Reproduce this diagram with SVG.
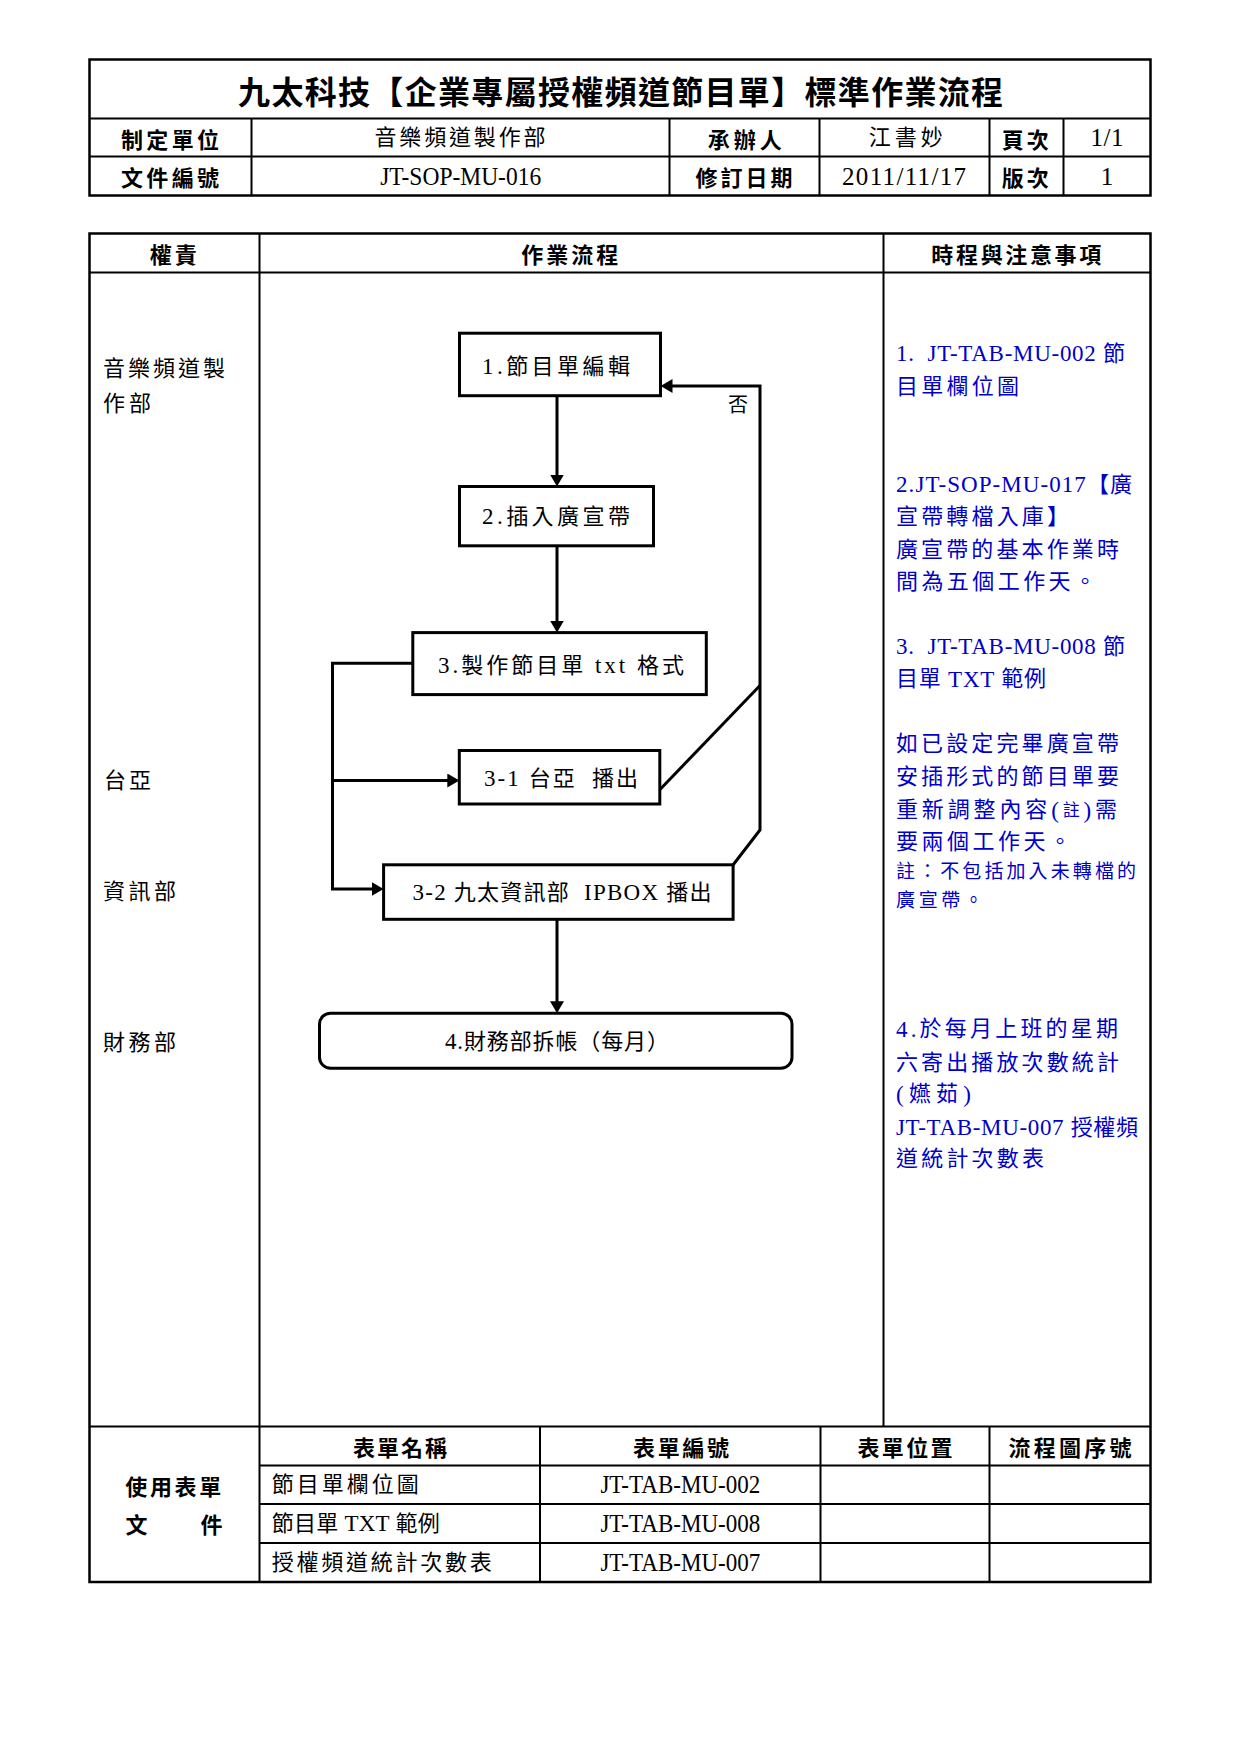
<svg xmlns="http://www.w3.org/2000/svg" width="1240" height="1754" viewBox="0 0 1240 1754">
<defs>
<style>
.t{font-family:"Liberation Serif","Noto Sans CJK TC",serif;font-size:22px;fill:#000;dominant-baseline:central}
.b{font-family:"Noto Sans CJK TC",sans-serif;font-weight:700;font-size:22px;fill:#000;dominant-baseline:central;text-anchor:middle}
.m{text-anchor:middle}
.n{fill:#0000c8}
.s{font-size:19px}
.L{font-size:23px}
.LL{font-size:25px}
.box{fill:#fff;stroke:#000;stroke-width:3}
.ln{fill:none;stroke:#000;stroke-width:3}
.g{stroke:#000;stroke-width:2;fill:none}
.o{stroke:#000;stroke-width:2.5;fill:none}
</style>
<marker id="ah" viewBox="0 0 12 14" refX="2" refY="7" markerWidth="12" markerHeight="14" markerUnits="userSpaceOnUse" orient="auto"><path d="M0,0 L12,7 L0,14 z" fill="#000"/></marker>
</defs>
<rect width="1240" height="1754" fill="#fff"/>

<g id="header-table">
<rect class="o" x="89.5" y="59.5" width="1061" height="136"/>
<path class="g" d="M89.5,118.5H1150.5 M89.5,156.5H1150.5 M251.5,118.5V195.5 M669.5,118.5V195.5 M819.5,118.5V195.5 M989.5,118.5V195.5 M1063.5,118.5V195.5"/>
<text class="b" x="620.6" y="90" style="font-size:32px" textLength="765">九太科技【企業專屬授權頻道節目單】標準作業流程</text>
<text class="b" x="170" y="137.5" textLength="98">制定單位</text>
<text class="t m" x="460" y="137.5" textLength="171">音樂頻道製作部</text>
<text class="b" x="744.7" y="137.5" textLength="74">承辦人</text>
<text class="t m" x="905.7" y="137.5" textLength="74">江書妙</text>
<text class="b" x="1025.3" y="137.5" textLength="47">頁次</text>
<text class="t m LL" x="1107" y="137.5" textLength="33">1/1</text>
<text class="b" x="170" y="176" textLength="98">文件編號</text>
<text class="t m LL" x="460.7" y="176" textLength="161" lengthAdjust="spacingAndGlyphs">JT-SOP-MU-016</text>
<text class="b" x="744" y="176" textLength="97">修訂日期</text>
<text class="t m LL" x="904" y="176" textLength="124">2011/11/17</text>
<text class="b" x="1025.3" y="176" textLength="47">版次</text>
<text class="t m LL" x="1107" y="176">1</text>
</g>

<g id="main-table">
<rect class="o" x="89.5" y="233.5" width="1061" height="1348.5"/>
<path class="g" d="M89.5,272.5H1150.5 M89.5,1426.5H1150.5 M259.5,233.5V1582 M883.5,233.5V1426.5 M259.5,1465.5H1150.5 M259.5,1504H1150.5 M259.5,1543H1150.5 M540,1426.5V1582 M820.5,1426.5V1582 M989.5,1426.5V1582"/>
<text class="b" x="173.3" y="253.2" textLength="47">權責</text>
<text class="b" x="569.7" y="253.2" textLength="97">作業流程</text>
<text class="b" x="1016.3" y="253.2" textLength="170">時程與注意事項</text>
</g>

<g id="roles">
<text class="t" x="103" y="368" textLength="122">音樂頻道製</text>
<text class="t" x="103" y="403.6" textLength="48">作部</text>
<text class="t" x="104" y="780.4" textLength="47">台亞</text>
<text class="t" x="103" y="891.1" textLength="73">資訊部</text>
<text class="t" x="103" y="1042" textLength="73">財務部</text>
</g>

<g id="connectors">
<line class="ln" x1="557" y1="395.7" x2="557" y2="476.5" marker-end="url(#ah)"/>
<line class="ln" x1="557" y1="545.8" x2="557" y2="622.6" marker-end="url(#ah)"/>
<polyline class="ln" points="412.8,663.3 332.5,663.3 332.5,889 373.6,889" marker-end="url(#ah)"/>
<line class="ln" x1="332.5" y1="780.5" x2="449.3" y2="780.5" marker-end="url(#ah)"/>
<line class="ln" x1="660" y1="789.5" x2="760" y2="685.5"/>
<polyline class="ln" points="733,865 760,830 760,386 670.5,386" marker-end="url(#ah)"/>
<line class="ln" x1="557" y1="919.3" x2="557" y2="1003.2" marker-end="url(#ah)"/>
<text class="t m" x="738" y="404.7" style="font-size:20px">否</text>
</g>

<g id="n1">
<rect class="box" x="459.5" y="333.2" width="201" height="62.5"/>
<text class="t m" x="556" y="366" textLength="148"><tspan class="L">1.</tspan>節目單編輯</text>
</g>
<g id="n2">
<rect class="box" x="459.5" y="486.5" width="194" height="59.3"/>
<text class="t m" x="556" y="516.3" textLength="148"><tspan class="L">2.</tspan>插入廣宣帶</text>
</g>
<g id="n3">
<rect class="box" x="412.8" y="632.6" width="293.5" height="62"/>
<text class="t m" x="561" y="665" textLength="246"><tspan class="L">3.</tspan>製作節目單<tspan class="L"> txt </tspan>格式</text>
</g>
<g id="n31">
<rect class="box" x="459.3" y="750.5" width="200.5" height="53.5"/>
<text class="t m" x="561" y="778" textLength="154" style="white-space:pre"><tspan class="L">3-1 </tspan>台亞  播出</text>
</g>
<g id="n32">
<rect class="box" x="383.6" y="864.8" width="349.5" height="54.5"/>
<text class="t m" x="562" y="892" textLength="299" style="white-space:pre"><tspan class="L">3-2 </tspan>九太資訊部<tspan class="L">  IPBOX </tspan>播出</text>
</g>
<g id="n4">
<rect class="box" x="319.5" y="1013.2" width="472.5" height="55" rx="11"/>
<text class="t m" x="557" y="1041" textLength="224"><tspan class="L">4.</tspan>財務部拆帳（每月）</text>
</g>

<g id="notes">
<text class="t n" x="896" y="353.3" textLength="229" style="white-space:pre"><tspan class="L">1.  JT-TAB-MU-002 </tspan>節</text>
<text class="t n" x="896" y="386.9" textLength="123">目單欄位圖</text>
<text class="t n" x="896" y="484.1" textLength="236"><tspan class="L">2.JT-SOP-MU-017</tspan>【廣</text>
<text class="t n" x="896" y="516.6" textLength="173">宣帶轉檔入庫】</text>
<text class="t n" x="896" y="549" textLength="223">廣宣帶的基本作業時</text>
<text class="t n" x="896" y="581.4" textLength="200">間為五個工作天。</text>
<text class="t n" x="896" y="646.3" textLength="229" style="white-space:pre"><tspan class="L">3.  JT-TAB-MU-008 </tspan>節</text>
<text class="t n" x="896" y="678.7" textLength="150">目單<tspan class="L"> TXT </tspan>範例</text>
<text class="t n" x="896" y="743.5" textLength="223">如已設定完畢廣宣帶</text>
<text class="t n" x="896" y="776" textLength="223">安插形式的節目單要</text>
<text class="t n" x="896" y="809.5" textLength="221">重新調整內容<tspan class="L">(</tspan><tspan style="font-size:17px">註</tspan><tspan class="L">)</tspan>需</text>
<text class="t n" x="896" y="841.9" textLength="175">要兩個工作天。</text>
<text class="t n s" x="896" y="871" textLength="240">註：不包括加入未轉檔的</text>
<text class="t n s" x="896" y="900.1" textLength="87">廣宣帶。</text>
<text class="t n" x="896" y="1028.7" textLength="222"><tspan class="L">4.</tspan>於每月上班的星期</text>
<text class="t n" x="896" y="1062.2" textLength="223">六寄出播放次數統計</text>
<text class="t n" x="896" y="1093.5" textLength="75"><tspan class="L">(</tspan>嬿茹<tspan class="L">)</tspan></text>
<text class="t n" x="896" y="1127" textLength="242"><tspan class="L">JT-TAB-MU-007 </tspan>授權頻</text>
<text class="t n" x="896" y="1158.4" textLength="148">道統計次數表</text>
</g>

<g id="forms-table">
<text class="b" x="400" y="1446.2" textLength="94">表單名稱</text>
<text class="b" x="681" y="1446.2" textLength="96">表單編號</text>
<text class="b" x="905" y="1446.2" textLength="95">表單位置</text>
<text class="b" x="1070" y="1446.2" textLength="123">流程圖序號</text>
<text class="b" x="173.3" y="1484.8" textLength="96">使用表單</text>
<text class="b" x="136.4" y="1522.8">文</text>
<text class="b" x="211.4" y="1522.8">件</text>
<text class="t" x="271.7" y="1484.8" textLength="147">節目單欄位圖</text>
<text class="t m LL" x="680.4" y="1484.8" textLength="160" lengthAdjust="spacingAndGlyphs">JT-TAB-MU-002</text>
<text class="t" x="271.7" y="1523.4" textLength="168">節目單<tspan class="L"> TXT </tspan>範例</text>
<text class="t m LL" x="680.4" y="1523.4" textLength="160" lengthAdjust="spacingAndGlyphs">JT-TAB-MU-008</text>
<text class="t" x="271.7" y="1562.5" textLength="220">授權頻道統計次數表</text>
<text class="t m LL" x="680.4" y="1562.5" textLength="160" lengthAdjust="spacingAndGlyphs">JT-TAB-MU-007</text>
</g>
</svg>
